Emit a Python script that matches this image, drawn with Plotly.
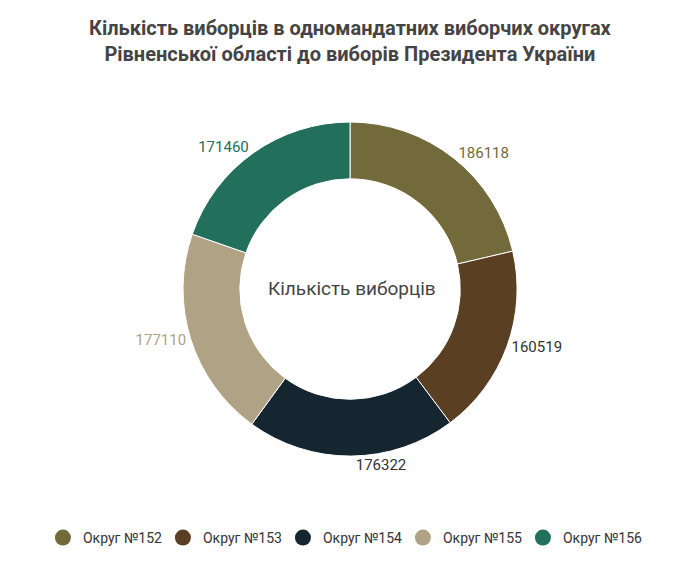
import plotly.graph_objects as go

districts = ["Округ №152", "Округ №153", "Округ №154", "Округ №155", "Округ №156"]
voters = [186118, 160519, 176322, 177110, 171460]
colors = ["#736a3c", "#5a3f22", "#152630", "#b0a285", "#226f5c"]
label_colors = ["#736a3c", "#333333", "#333333", "#b0a285", "#226f5c"]

fig = go.Figure()
fig.add_trace(
    go.Pie(
        labels=districts,
        values=voters,
        hole=0.66,
        sort=False,
        direction="clockwise",
        rotation=0,
        marker=dict(colors=colors, line=dict(color="white", width=1)),
        textinfo="value",
        textposition="outside",
        texttemplate="%{value:d}",
        textfont=dict(family="Roboto", size=15, color=label_colors),
        showlegend=False,
        domain=dict(x=[0.258, 0.751], y=[0.218, 0.801]),
    )
)

# legend entries with round markers
for name, c in zip(districts, colors):
    fig.add_trace(
        go.Scatter(
            x=[None], y=[None], mode="markers", name=name,
            marker=dict(symbol="circle", size=16, color=c),
        )
    )

fig.update_layout(
    width=678,
    height=573,
    paper_bgcolor="white",
    plot_bgcolor="white",
    margin=dict(l=0, r=0, t=0, b=0),
    font=dict(family="Roboto", color="#444"),
    xaxis=dict(visible=False),
    yaxis=dict(visible=False),
    legend=dict(
        orientation="h", x=0.494, xanchor="center", y=1 - 530 / 573, yanchor="middle",
        font=dict(family="Roboto", size=14, color="#333"),
        entrywidth=75,
    ),
    annotations=[
        dict(
            text="<b>Кількість виборців в одномандатних виборчих округах<br>Рівненської області до виборів Президента України</b>",
            x=0.505, y=1 - 6 / 573, xref="paper", yref="paper",
            xanchor="center", yanchor="top", showarrow=False,
            font=dict(family="Roboto", size=20, color="#444"),
        ),
        dict(
            text="Кількість виборців", x=344 / 678, y=1 - 280 / 573,
            xref="paper", yref="paper", showarrow=False,
            font=dict(family="Roboto", size=19, color="#444"),
        ),
    ],
)

fig.write_html("out.html")
